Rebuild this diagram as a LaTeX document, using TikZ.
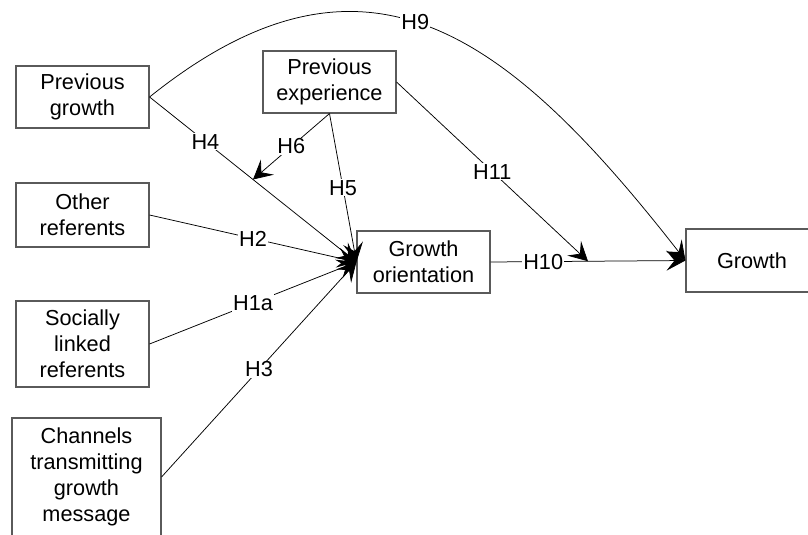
\documentclass[tikz,border=0pt]{standalone}
\usepackage{fontspec}
\setmainfont{Liberation Sans}
\usetikzlibrary{arrows.meta}
\definecolor{boxgray}{HTML}{5A5A5A}
\newcommand{\diagfont}{\fontsize{21.7}{26}\selectfont}
\begin{document}
\begin{tikzpicture}[x=1pt,y=-1pt,
  box/.style={draw=boxgray, line width=1.1pt, fill=white, align=center,
    inner sep=0pt, font=\diagfont, minimum width=133pt, minimum height=62pt},
  conn/.style={draw=black, line width=0.75pt,
    -{Stealth[length=19pt,width=20pt,inset=8pt]}},
  lbl/.style={fill=white, inner sep=1pt, font=\diagfont}]
\useasboundingbox (0,0) rectangle (808,535);

% variables
\node[box] (PG) at (82.5,97) {Previous\\growth};
\node[box] (PE) at (329.5,82) {Previous\\experience};
\node[box, minimum height=64pt] (OR) at (82.5,215) {Other\\referents};
\node[box, minimum height=86pt] (SL) at (82.5,344) {Socially\\linked\\referents};
\node[box, minimum width=149pt, minimum height=118pt] (CH) at (86.5,477)
  {Channels\\transmitting\\growth\\message};
\node[box] (GO) at (423.5,262) {Growth\\orientation};
\node[box, minimum width=132pt, minimum height=63pt] (GR) at (752,260.5) {Growth};

% hypothesised paths
\draw[conn] (PG.east) -- node[lbl, pos=0.27] {H4} coordinate[pos=0.5] (m4) (GO.west);
\draw[conn] (OR.east) -- node[lbl] {H2} (GO.west);
\draw[conn] (SL.east) -- node[lbl] {H1a} (GO.west);
\draw[conn] (CH.east) -- node[lbl] {H3} (GO.west);
\draw[conn] (PE.south) -- node[lbl] {H5} (GO.west);
\draw[conn] (PE.south) -- node[lbl] {H6} (m4);
\draw[conn] (GO.east) -- node[lbl, pos=0.27] {H10} coordinate[pos=0.5] (m10) (GR.west);
\draw[conn] (PE.east) -- node[lbl] {H11} (m10);
\draw[conn] (PG.east) .. controls (364,-75) and (506,30.6) ..
  node[lbl, pos=0.47] {H9} (GR.west);
\end{tikzpicture}
\end{document}
